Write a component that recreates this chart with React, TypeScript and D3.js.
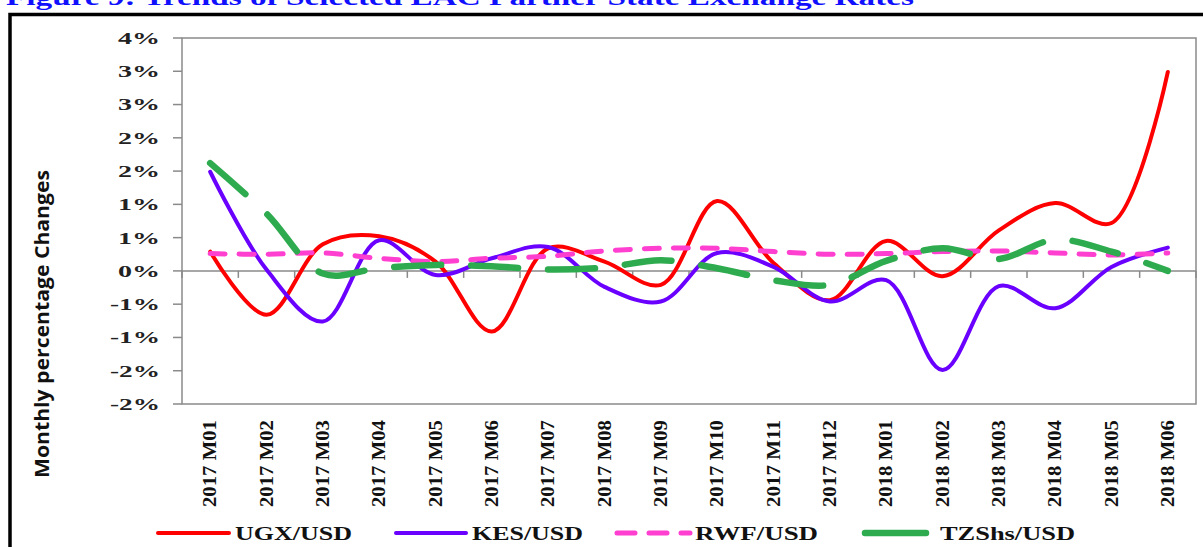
import React from "react";
import * as d3 from "d3";

const months = [
  "2017 M01", "2017 M02", "2017 M03", "2017 M04", "2017 M05", "2017 M06",
  "2017 M07", "2017 M08", "2017 M09", "2017 M10", "2017 M11", "2017 M12",
  "2018 M01", "2018 M02", "2018 M03", "2018 M04", "2018 M05", "2018 M06",
];
const ugx = [0.29, -0.66, 0.4, 0.52, 0.14, -0.91, 0.34, 0.14, -0.21, 1.05, 0.12, -0.44, 0.45, -0.08, 0.61, 1.02, 0.72, 2.99];
const kes = [1.49, 0.02, -0.76, 0.46, -0.06, 0.19, 0.36, -0.24, -0.46, 0.27, 0.06, -0.46, -0.14, -1.49, -0.23, -0.56, 0.06, 0.35];
const rwf = [0.26, 0.25, 0.27, 0.19, 0.14, 0.19, 0.22, 0.3, 0.34, 0.34, 0.29, 0.25, 0.26, 0.29, 0.3, 0.27, 0.24, 0.27];
const tzs = [1.62, 0.86, -0.04, 0.04, 0.09, 0.07, 0.02, 0.05, 0.16, 0.04, -0.14, -0.21, 0.15, 0.34, 0.18, 0.47, 0.29, 0.0];

const yTickValues = [-2, -1.5, -1, -0.5, 0, 0.5, 1, 1.5, 2, 2.5, 3, 3.5];
const yTickLabels = ["-2%", "-2%", "-1%", "-1%", "0%", "1%", "1%", "2%", "2%", "3%", "3%", "4%"];

const seriesNames = ["UGX/USD", "KES/USD", "RWF/USD", "TZShs/USD"];
const title = "Figure 9: Trends of Selected EAC Partner State Exchange Rates";
const yTitle = "Monthly percentage Changes";

const W = 1203;
const H = 547;
const PL = 182, PR = 1196, PT = 38, PB = 404;

const styles = [
  { color: "#ff0000", width: 4, dash: undefined as string | undefined },
  { color: "#6a00ff", width: 4, dash: undefined as string | undefined },
  { color: "#ff3fcf", width: 5, dash: "15 14" },
  { color: "#2fab4f", width: 6.5, dash: "47 30" },
];

const legendPos = [
  { x1: 158, x2: 229, tx: 235, tl: 117 },
  { x1: 396, x2: 466, tx: 472, tl: 111 },
  { x1: 617, x2: 690, tx: 695, tl: 123 },
  { x1: 865, x2: 926, tx: 940, tl: 135 },
];

export default function App() {
  const x = d3.scaleBand<string>().domain(months).range([PL, PR]);
  const y = d3.scaleLinear().domain([-2, 3.5]).range([PB, PT]);
  const cx = (m: string) => (x(m) as number) + x.bandwidth() / 2;
  const line = d3
    .line<number>()
    .x((_, i) => cx(months[i]))
    .y((d) => y(d))
    .curve(d3.curveCatmullRom.alpha(0.5));
  const data = [ugx, kes, rwf, tzs];
  const boundaries = months.map((m) => x(m) as number).concat([PR]);
  const serif = "'Liberation Serif', 'Times New Roman', serif";

  return (
    <svg
      width={W}
      height={H}
      style={{ position: "absolute", left: 0, top: 0, background: "#fff" }}
    >
      <rect x={0} y={0} width={W} height={H} fill="#fff" />
      {/* title (cut off at the top, as in the source) */}
      <text
        x={6}
        y={5}
        fontFamily={serif}
        fontWeight="bold"
        fontSize={23}
        fill="#1010ff"
        textLength={908}
        lengthAdjust="spacingAndGlyphs"
      >
        {title}
      </text>
      {/* outer frame */}
      <rect x={10} y={14.5} width={1400} height={700} fill="none" stroke="#000" strokeWidth={3.5} />
      {/* plot frame */}
      <rect x={PL} y={PT} width={PR - PL} height={PB - PT} fill="none" stroke="#8a8a8a" strokeWidth={1.5} />
      {/* y ticks */}
      {yTickValues.map((v, i) => (
        <g key={"yt" + i}>
          <line x1={173} x2={PL} y1={y(v)} y2={y(v)} stroke="#8a8a8a" strokeWidth={1.5} />
          <text
            x={160}
            y={y(v)}
            dy="0.35em"
            textAnchor="end"
            fontFamily={serif}
            fontWeight="bold"
            fontSize={17}
            fill="#222"
            textLength={yTickLabels[i].startsWith("-") ? 50 : 42}
            lengthAdjust="spacingAndGlyphs"
          >
            {yTickLabels[i]}
          </text>
        </g>
      ))}
      {/* zero axis with category ticks */}
      <line x1={PL} x2={PR} y1={y(0)} y2={y(0)} stroke="#8a8a8a" strokeWidth={1.5} />
      {boundaries.map((b, i) => (
        <line key={"xt" + i} x1={b} x2={b} y1={y(0)} y2={y(0) + 7} stroke="#8a8a8a" strokeWidth={1.5} />
      ))}
      {/* x labels */}
      {months.map((m) => (
        <text
          key={m}
          transform={`translate(${cx(m) + 6},420) rotate(-90)`}
          textAnchor="end"
          fontFamily={serif}
          fontWeight="bold"
          fontSize={18}
          fill="#111"
          textLength={87}
          lengthAdjust="spacingAndGlyphs"
        >
          {m}
        </text>
      ))}
      {/* y title */}
      <text
        transform={`translate(49,324) rotate(-90)`}
        textAnchor="middle"
        fontFamily="'Open Sans', 'Noto Sans', sans-serif"
        fontWeight="bold"
        fontSize={20}
        fill="#111"
        textLength={308}
        lengthAdjust="spacingAndGlyphs"
      >
        {yTitle}
      </text>
      {/* series */}
      {data.map((d, i) => (
        <path
          key={"s" + i}
          d={line(d) as string}
          fill="none"
          stroke={styles[i].color}
          strokeWidth={styles[i].width}
          strokeDasharray={styles[i].dash}
          strokeLinecap="round"
          strokeLinejoin="round"
        />
      ))}
      {/* legend */}
      {seriesNames.map((n, i) => (
        <g key={"lg" + i}>
          <line
            x1={legendPos[i].x1}
            x2={legendPos[i].x2}
            y1={533}
            y2={533}
            stroke={styles[i].color}
            strokeWidth={styles[i].width}
            strokeDasharray={i === 2 ? "18 14" : undefined}
            strokeLinecap="round"
          />
          <text
            x={legendPos[i].tx}
            y={540}
            fontFamily={serif}
            fontWeight="bold"
            fontSize={19}
            fill="#111"
            textLength={legendPos[i].tl}
            lengthAdjust="spacingAndGlyphs"
          >
            {n}
          </text>
        </g>
      ))}
    </svg>
  );
}
